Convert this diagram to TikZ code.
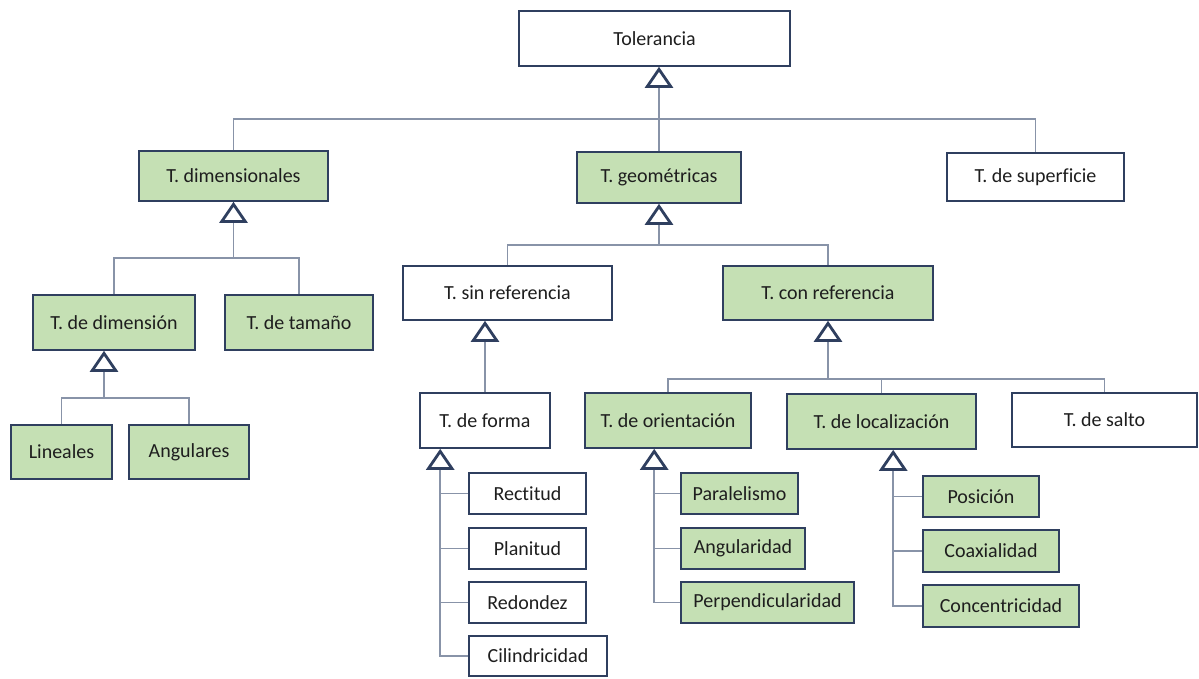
\documentclass[tikz,border=0pt]{standalone}
\usepackage{fontspec}
\setmainfont{Carlito}[Ligatures={NoCommon,NoRare,NoDiscretionary}]
\usetikzlibrary{arrows.meta}
\definecolor{boxgreen}{HTML}{C5E0B4}
\definecolor{navy}{HTML}{2F3F5F}
\definecolor{connc}{HTML}{8893A8}
\definecolor{txt}{HTML}{1E1E1E}
\begin{document}
\begin{tikzpicture}[x=1pt,y=-1pt,
  plainbox/.style={draw=navy, line width=1.6pt, fill=white, inner sep=0pt, text=txt, font=\fontsize{20}{24}\selectfont},
  greenbox/.style={plainbox, fill=boxgreen},
  conn/.style={draw=connc, line width=1.8pt},
  gen/.style={-{Triangle[width=28pt, length=21pt, line width=2.8pt, color=navy, fill=white]}}]
\useasboundingbox (0,0) rectangle (1199,678);
% boxes
\def\mk#1#2#3#4#5#6#7{\node[#6, minimum width={(#4)-(#2)}, minimum height={(#5)-(#3)}] (#1) at ({((#2)+(#4))/2},{((#3)+(#5))/2}) {#7};}
\mk{tol}{519}{11}{790}{66}{plainbox}{Tolerancia}
\mk{dim}{139}{151}{328}{201}{greenbox}{T. dimensionales}
\mk{geo}{577}{152}{741}{203}{greenbox}{T. geométricas}
\mk{sup}{947}{153}{1124}{201}{plainbox}{T. de superficie}
\mk{dimn}{33}{295}{195}{350}{greenbox}{T. de dimensión}
\mk{tam}{225}{295}{373}{350}{greenbox}{T. de tamaño}
\mk{lin}{11}{425}{112}{479}{greenbox}{Lineales}
\mk{ang}{129}{425}{249}{479}{greenbox}{Angulares}
\mk{sin}{403}{266}{612}{320}{plainbox}{T. sin referencia}
\mk{con}{723}{266}{933}{320}{greenbox}{T. con referencia}
\mk{forma}{420}{393}{550}{448}{plainbox}{T. de forma}
\mk{ori}{585}{393}{751}{448}{greenbox}{T. de orientación}
\mk{loc}{787}{394}{976}{449}{greenbox}{T. de localización}
\mk{salto}{1012}{393}{1197}{447}{plainbox}{T. de salto}
\mk{rect}{469}{473}{586}{514}{plainbox}{Rectitud}
\mk{plan}{469}{528}{586}{569}{plainbox}{Planitud}
\mk{red}{469}{582}{586}{623}{plainbox}{Redondez}
\mk{cil}{469}{636}{607}{676}{plainbox}{Cilindricidad}
\mk{par}{681}{473}{798}{514}{greenbox}{Paralelismo}
\mk{angu}{681}{528}{805}{569}{greenbox}{Angularidad}
\mk{perp}{681}{582}{854}{623}{greenbox}{Perpendicularidad}
\mk{pos}{923}{476}{1039}{517}{greenbox}{Posición}
\mk{coax}{923}{530}{1059}{572}{greenbox}{Coaxialidad}
\mk{conc}{923}{585}{1079}{627}{greenbox}{Concentricidad}
% bus coordinates
\coordinate (b1) at (geo.north |- 0,119);
\coordinate (b2) at (dim.south |- 0,258);
\coordinate (b3) at (104,398);
\coordinate (b4) at (geo.south |- 0,245);
\coordinate (b5) at (con.south |- 0,379);
\coordinate (fx) at ([xshift=21pt]forma.south west);
\coordinate (ox) at ([xshift=70pt]ori.south west);
\coordinate (lx) at ([xshift=107pt]loc.south west);
% Tolerancia tree
\draw[conn] (dim.north) |- (b1) -| (sup.north);
\draw[conn] (geo.north) -- (b1);
\draw[conn,gen] (b1) -- (b1 |- tol.south);
% dimensionales tree
\draw[conn] (dimn.north) |- (b2) -| (tam.north);
\draw[conn,gen] (b2) -- (dim.south);
% dimension tree
\draw[conn] (lin.north) |- (b3) -| (ang.north);
\draw[conn,gen] (b3) -- (b3 |- dimn.south);
% geometricas tree
\draw[conn] (sin.north) |- (b4) -| (con.north);
\draw[conn,gen] (b4) -- (geo.south);
% sin referencia
\draw[conn,gen] (forma.north) -- (forma.north |- sin.south);
% con referencia
\draw[conn] (ori.north) |- (b5) -| (salto.north);
\draw[conn] (loc.north) -- (loc.north |- b5);
\draw[conn,gen] (b5) -- (con.south);
% forma
\draw[conn] (rect.west) -- (rect.west -| fx);
\draw[conn] (plan.west) -- (plan.west -| fx);
\draw[conn] (red.west) -- (red.west -| fx);
\draw[conn,gen] (cil.west) -| (fx);
% orientacion
\draw[conn] (par.west) -- (par.west -| ox);
\draw[conn] (angu.west) -- (angu.west -| ox);
\draw[conn,gen] (perp.west) -| (ox);
% localizacion
\draw[conn] (pos.west) -- (pos.west -| lx);
\draw[conn] (coax.west) -- (coax.west -| lx);
\draw[conn,gen] (conc.west) -| (lx);
\end{tikzpicture}
\end{document}
